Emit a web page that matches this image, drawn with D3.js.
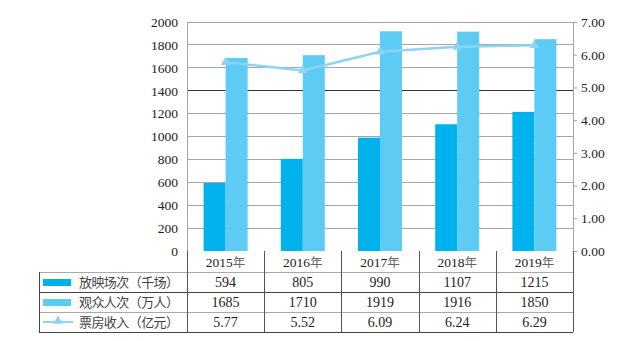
<!DOCTYPE html>
<html><head><meta charset="utf-8">
<script src="https://cdn.jsdelivr.net/npm/d3@7"></script>
<style>body{margin:0;background:#fff}svg{display:block}</style>
</head><body><svg id="c" width="625" height="341"></svg>
<script>
const years = ["2015年","2016年","2017年","2018年","2019年"];
const screenings = [594, 805, 990, 1107, 1215];
const audience = [1685, 1710, 1919, 1916, 1850];
const boxOffice = [5.77, 5.52, 6.09, 6.24, 6.29];
const boxOfficeLabels = ["5.77","5.52","6.09","6.24","6.29"];
const leftTicks = [0,200,400,600,800,1000,1200,1400,1600,1800,2000];
const rightTicks = [0,1,2,3,4,5,6,7];
const seriesNames = ["放映场次（千场）","观众人次（万人）","票房收入（亿元）"];

const C1 = "#00b2ec", C2 = "#5ecbf4", CL = "#8dd4f2";
const serif = "'Liberation Serif','Times New Roman',serif";
const cjk = "'Noto Sans CJK SC',sans-serif";

const svg = d3.select("#c");
const L = 187, R = 573, T = 22, B = 251;
const x = d3.scaleBand().domain(years).range([L, R]);
const yL = d3.scaleLinear().domain([0, 2000]).range([B, T]);
const yR = d3.scaleLinear().domain([0, 7]).range([B, T]);
const inner = d3.scaleBand().domain([0,1]).range([0, 44]);
const off = (x.bandwidth() - 44) / 2;

// gridlines
svg.append("g").selectAll("line").data(leftTicks.slice(1)).join("line")
  .attr("x1", L).attr("x2", R).attr("y1", d => yL(d)).attr("y2", d => yL(d))
  .attr("stroke", d => d === 1400 ? "#333" : "#a6a6a6").attr("stroke-width", 1)
  .attr("shape-rendering", "crispEdges");

// left axis
const gl = svg.append("g").attr("transform", `translate(${L},0)`)
  .call(d3.axisLeft(yL).tickValues(leftTicks).tickSize(0).tickPadding(9).tickFormat(d3.format("d")));
gl.select(".domain").attr("stroke", "#a6a6a6");
gl.selectAll("text").attr("font-family", serif).attr("font-size", 13.5).attr("fill", "#222");

// right axis
const gr = svg.append("g").attr("transform", `translate(${R},0)`)
  .call(d3.axisRight(yR).tickValues(rightTicks).tickSize(4).tickPadding(4).tickFormat(d3.format(".2f")));
gr.select(".domain").attr("stroke", "#a6a6a6");
gr.selectAll(".tick line").attr("stroke", "#a6a6a6");
gr.selectAll("text").attr("font-family", serif).attr("font-size", 13.5).attr("fill", "#222");

// bars
svg.append("g").selectAll("rect").data(screenings).join("rect")
  .attr("x", (d,i) => x(years[i]) + off + inner(0)).attr("width", inner.bandwidth())
  .attr("y", d => yL(d)).attr("height", d => B - yL(d)).attr("fill", C1);
svg.append("g").selectAll("rect").data(audience).join("rect")
  .attr("x", (d,i) => x(years[i]) + off + inner(1)).attr("width", inner.bandwidth())
  .attr("y", d => yL(d)).attr("height", d => B - yL(d)).attr("fill", C2);

// line
const cx = (i) => x(years[i]) + x.bandwidth()/2;
svg.append("path").datum(boxOffice)
  .attr("d", d3.line().x((d,i) => cx(i)).y(d => yR(d)))
  .attr("fill", "none").attr("stroke", CL).attr("stroke-width", 2.5);
const tri = d3.symbol().type(d3.symbolTriangle).size(40);
svg.append("g").selectAll("path").data(boxOffice).join("path")
  .attr("transform", (d,i) => `translate(${cx(i)},${yR(d)})`).attr("d", tri).attr("fill", CL);

// table
const rowY = [251, 272, 292, 312, 332];
const tl = svg.append("g").attr("shape-rendering", "crispEdges");
const hl = [[272,"#aaa"],[292,"#444"],[312,"#aaa"],[332,"#444"]];
hl.forEach(([y,c]) => tl.append("line").attr("x1", 39).attr("x2", R).attr("y1", y+0.5).attr("y2", y+0.5).attr("stroke", c));
tl.append("line").attr("x1", 39.5).attr("x2", 39.5).attr("y1", 272).attr("y2", 332).attr("stroke", "#444");
const vx = [L].concat(years.slice(1).map(y => x(y)), [R]);
vx.forEach(v => tl.append("line").attr("x1", Math.round(v)+0.5).attr("x2", Math.round(v)+0.5)
  .attr("y1", B).attr("y2", 332).attr("stroke", "#555"));

// header years
svg.append("g").selectAll("text").data(years).join("text")
  .attr("x", (d,i) => cx(i)).attr("y", 267).attr("text-anchor", "middle")
  .attr("fill", "#222").attr("font-size", 13.5)
  .each(function(d){
    const t = d3.select(this);
    t.append("tspan").attr("font-family", serif).text(d.replace("年",""));
    t.append("tspan").attr("font-family", cjk).attr("font-size", 12.5).attr("fill", "#666").text("年");
  });

const rows = [screenings.map(String), audience.map(String), boxOfficeLabels];
rows.forEach((r, ri) => {
  svg.append("g").selectAll("text").data(r).join("text")
    .attr("x", (d,i) => cx(i)).attr("y", rowY[ri+1] + 15).attr("text-anchor", "middle")
    .attr("font-family", serif).attr("font-size", 14).attr("fill", "#222").text(d => d);
});

// legend labels in table
seriesNames.forEach((n, ri) => {
  svg.append("text").attr("x", 79).attr("y", rowY[ri+1] + 15)
    .attr("font-family", cjk).attr("font-size", 13).attr("fill", "#444")
    .attr("textLength", 100).attr("lengthAdjust", "spacing").text(n);
});
svg.append("rect").attr("x", 43).attr("y", 279).attr("width", 28).attr("height", 7).attr("fill", C1);
svg.append("rect").attr("x", 43).attr("y", 299).attr("width", 28).attr("height", 7).attr("fill", C2);
svg.append("line").attr("x1", 43).attr("x2", 73).attr("y1", 322).attr("y2", 322).attr("stroke", CL).attr("stroke-width", 2);
svg.append("path").attr("transform", "translate(58,321)").attr("d", tri).attr("fill", CL);
</script></body></html>
